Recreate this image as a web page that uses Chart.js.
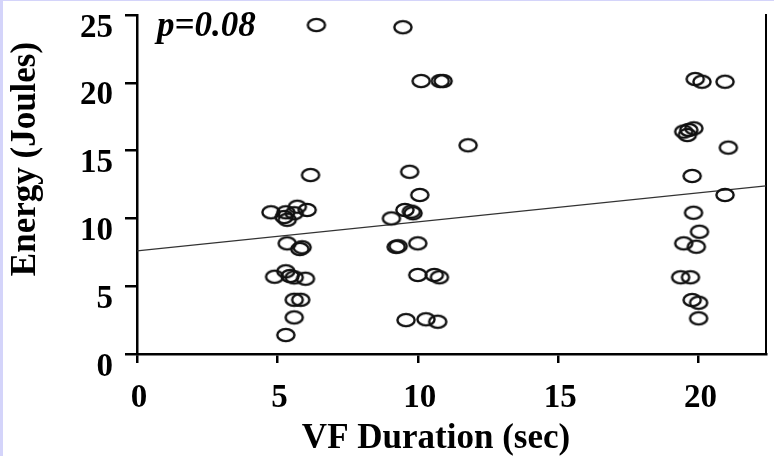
<!DOCTYPE html>
<html>
<head>
<meta charset="utf-8">
<script src="https://cdn.jsdelivr.net/npm/chart.js@4.4.0/dist/chart.umd.min.js"></script>
<style>
  html, body { margin: 0; padding: 0; background: #fff; }
  #wrap { position: relative; width: 774px; height: 456px; }
</style>
</head>
<body>
<div id="wrap"><canvas id="grafico" width="774" height="456"></canvas></div>
<script>
// === DADOS ===
const duracaoVF = [
  6.39, 6.18, 4.77, 5.30, 5.24, 5.60, 5.71, 6.06, 5.35, 5.35, 5.88, 5.80,
  4.90, 5.30, 5.45, 5.60, 6.00, 5.60, 5.83, 5.60, 5.30,
  9.47, 10.12, 10.80, 10.90, 11.79, 9.71, 10.07, 9.06, 9.54, 9.77, 9.83,
  9.23, 9.30, 10.00, 10.00, 10.59, 10.77, 9.58, 10.29, 10.71,
  19.88, 20.12, 20.94, 19.47, 19.65, 19.83, 19.60, 21.06, 19.77, 20.94,
  19.82, 20.03, 19.47, 19.92, 19.36, 19.71, 19.77, 20.00, 20.00
];
const energia = [
  24.26, 13.20, 10.45, 10.45, 10.10, 10.38, 10.86, 10.62, 9.90, 8.16, 7.87, 7.74,
  5.70, 6.10, 5.75, 5.65, 5.55, 4.00, 4.00, 2.70, 1.40,
  24.10, 20.13, 20.13, 20.13, 15.39, 13.44, 11.73, 10.00, 10.62, 10.50, 10.38,
  7.90, 7.95, 8.16, 5.83, 5.83, 5.66, 2.50, 2.56, 2.38,
  20.28, 20.08, 20.08, 16.40, 16.52, 16.64, 16.15, 15.22, 13.13, 11.73,
  10.42, 9.02, 8.16, 7.91, 5.66, 5.66, 3.98, 3.78, 2.63
];
// reta de regressao
const retaX = [0, 22.4];
const retaY = [7.6, 12.4];

const ticksX = [0, 5, 10, 15, 20];
const ticksY = [0, 5, 10, 15, 20, 25];
const tituloX = 'VF Duration (sec)';
const tituloY = 'Energy (Joules)';
const textoP = 'p=0.08';

const fonteSerif = '"Liberation Serif", "Times New Roman", serif';

// === MARCADOR ELIPSE ===
function criarElipse() {
  const c = document.createElement('canvas');
  c.width = 24;
  c.height = 18;
  const g = c.getContext('2d');
  g.strokeStyle = '#111';
  g.lineWidth = 2.4;
  g.beginPath();
  g.ellipse(12, 9, 8.6, 6.1, 0, 0, Math.PI * 2);
  g.stroke();
  return c;
}

// === TEXTOS E FUNDO ===
const textos = {
  id: 'textos',
  beforeDraw(chart) {
    const c = chart.ctx;
    c.save();
    c.fillStyle = '#fff';
    c.fillRect(0, 0, chart.width, chart.height);
    c.fillStyle = '#d4d4fa';
    c.fillRect(0, 0, chart.width, 1);
    c.fillRect(0, 0, 3, chart.height);
    c.restore();
  },
  afterDraw(chart) {
    const c = chart.ctx;
    c.save();
    c.fillStyle = '#000';
    c.font = 'bold 35px ' + fonteSerif;
    c.textAlign = 'center';
    c.textBaseline = 'alphabetic';
    c.fillText(tituloX, 436, 448);

    c.save();
    c.translate(35, 159);
    c.rotate(-Math.PI / 2);
    c.fillText(tituloY, 0, 0);
    c.restore();

    c.font = 'italic bold 35px ' + fonteSerif;
    c.textAlign = 'left';
    c.fillText(textoP, 157, 36);
    c.restore();
  }
};

// === GRAFICO ===
const ctx = document.getElementById('grafico').getContext('2d');
const pontos = duracaoVF.map((x, i) => ({ x, y: energia[i] }));
const reta = retaX.map((x, i) => ({ x, y: retaY[i] }));

const tickFont = { family: fonteSerif, size: 33, weight: 'bold' };

new Chart(ctx, {
  type: 'scatter',
  data: {
    datasets: [
      {
        data: pontos,
        pointStyle: criarElipse(),
        pointRadius: 7,
        pointHoverRadius: 7
      },
      {
        type: 'line',
        data: reta,
        borderColor: '#333',
        borderWidth: 1.2,
        pointRadius: 0,
        fill: false
      }
    ]
  },
  options: {
    responsive: false,
    animation: false,
    layout: { padding: { top: 15, right: 0, bottom: 0, left: 0 } },
    plugins: {
      legend: { display: false },
      tooltip: { enabled: false }
    },
    scales: {
      x: {
        type: 'linear',
        min: 0,
        max: 22.4,
        afterBuildTicks: s => { s.ticks = ticksX.map(v => ({ value: v })); },
        afterFit: s => { s.height = 102; },
        ticks: { font: tickFont, color: '#000', padding: 16, labelOffset: 2 },
        grid: { drawOnChartArea: false, tickLength: 9, color: '#000', lineWidth: 2.5 },
        border: { color: '#000', width: 2.5 }
      },
      y: {
        min: 0,
        max: 25,
        afterBuildTicks: s => { s.ticks = ticksY.map(v => ({ value: v })); },
        afterFit: s => { s.width = 137; s.paddingTop = 0; s.paddingBottom = 0; },
        ticks: { font: tickFont, color: '#000', padding: 12, labelOffset: 13 },
        grid: { drawOnChartArea: false, tickLength: 12, color: '#000', lineWidth: 2.5 },
        border: { color: '#000', width: 2.5 }
      },
      yDir: {
        position: 'right',
        min: 0,
        max: 25,
        afterFit: s => { s.width = 1; },
        ticks: { display: false },
        grid: { display: false },
        border: { color: '#000', width: 2 }
      }
    }
  },
  plugins: [textos]
});
</script>
</body>
</html>
